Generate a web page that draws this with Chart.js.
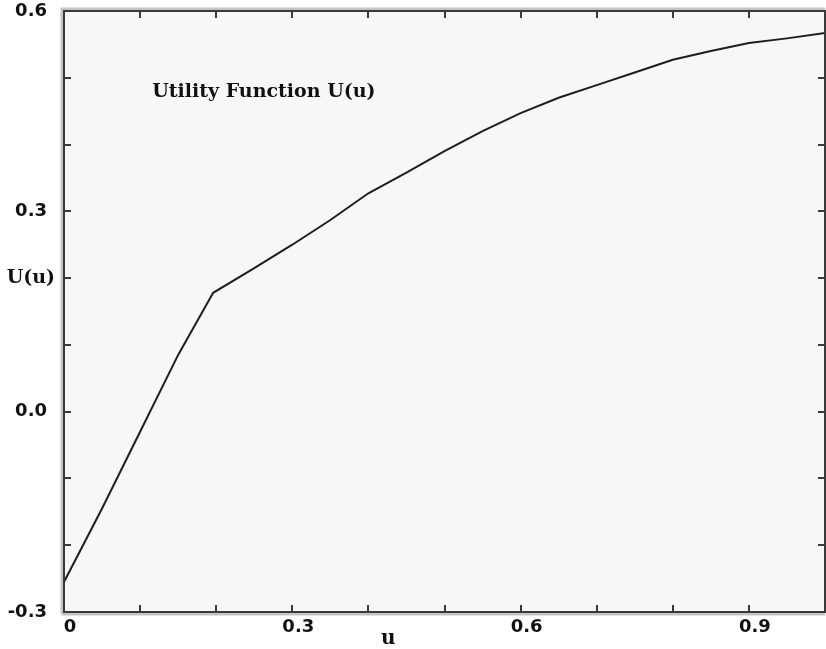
<!DOCTYPE html>
<html>
<head>
<meta charset="utf-8">
<script src="https://cdn.jsdelivr.net/npm/chart.js@4"></script>
<style>
  html, body { margin: 0; padding: 0; background: #fff; }
  #wrap { width: 826px; height: 649px; }
</style>
</head>
<body>
<div id="wrap"><canvas id="graphique"></canvas></div>
<script>
// valeurs
const uValues = [0, 0.05, 0.10, 0.15, 0.196, 0.25, 0.30, 0.35, 0.40, 0.45, 0.50,
                 0.55, 0.60, 0.65, 0.70, 0.75, 0.80, 0.85, 0.90, 0.95, 1.00];
const utilityValues = [-0.255, -0.145, -0.03, 0.085, 0.178, 0.215, 0.250, 0.287, 0.327, 0.358, 0.390,
                       0.420, 0.447, 0.470, 0.489, 0.508, 0.527, 0.540, 0.552, 0.559, 0.567];
const xTickLabels = ['0', '0.3', '0.6', '0.9'];
const yTickLabels = ['-0.3', '0.0', '0.3', '0.6'];
const titleText = 'Utility Function U(u)';
const yTitle = 'U(u)';
const xTitle = 'u';

const fmt = v => (Math.round(v * 10) / 10).toFixed(1);

// cadre, petites graduations vers l'intérieur et textes
const decorPlugin = {
  id: 'decor',
  beforeDatasetsDraw(chart) {
    const { ctx, chartArea: a } = chart;
    ctx.save();
    ctx.fillStyle = '#f7f7f7';
    ctx.fillRect(a.left, a.top, a.right - a.left, a.bottom - a.top);
    ctx.restore();
  },
  afterDraw(chart) {
    const { ctx, chartArea: a, scales } = chart;
    ctx.save();
    // ombre grise du cadre
    ctx.strokeStyle = '#c4c4c4';
    ctx.lineWidth = 3;
    ctx.beginPath();
    ctx.moveTo(a.left - 2, a.bottom + 2);
    ctx.lineTo(a.left - 2, a.top - 2);
    ctx.lineTo(a.right, a.top - 2);
    ctx.moveTo(a.left - 2, a.bottom + 2);
    ctx.lineTo(a.right, a.bottom + 2);
    ctx.stroke();
    // cadre foncé
    ctx.strokeStyle = '#3a3a3a';
    ctx.lineWidth = 2;
    ctx.strokeRect(a.left, a.top, a.right - a.left, a.bottom - a.top);
    // graduations
    ctx.lineWidth = 2;
    const len = 7;
    scales.x.ticks.forEach(t => {
      const px = Math.round(scales.x.getPixelForValue(t.value));
      ctx.beginPath();
      ctx.moveTo(px, a.bottom); ctx.lineTo(px, a.bottom - len);
      ctx.moveTo(px, a.top); ctx.lineTo(px, a.top + len);
      ctx.stroke();
    });
    scales.y.ticks.forEach(t => {
      const py = Math.round(scales.y.getPixelForValue(t.value));
      ctx.beginPath();
      ctx.moveTo(a.left, py); ctx.lineTo(a.left + len, py);
      ctx.moveTo(a.right, py); ctx.lineTo(a.right - len, py);
      ctx.stroke();
    });
    // textes
    ctx.fillStyle = '#111';
    ctx.font = 'bold 19px "DejaVu Serif"';
    ctx.textBaseline = 'middle';
    ctx.textAlign = 'left';
    ctx.fillText(titleText, scales.x.getPixelForValue(0.116), scales.y.getPixelForValue(0.479));
    ctx.textAlign = 'right';
    ctx.fillText(yTitle, a.left - 9, scales.y.getPixelForValue(0.2));
    ctx.textAlign = 'center';
    ctx.font = 'bold 20px "DejaVu Serif"';
    ctx.fillText(xTitle, scales.x.getPixelForValue(0.426), a.bottom + 27);
    ctx.restore();
  }
};

const ctx = document.getElementById('graphique').getContext('2d');
new Chart(ctx, {
  type: 'line',
  data: {
    datasets: [{
      data: uValues.map((u, i) => ({ x: u, y: utilityValues[i] })),
      borderColor: '#1e1e1e',
      borderWidth: 2,
      pointRadius: 0,
      tension: 0,
      fill: false
    }]
  },
  options: {
    responsive: true,
    maintainAspectRatio: false,
    animation: false,
    layout: { padding: { top: 11, right: 1, left: 0, bottom: 0 } },
    plugins: { legend: { display: false }, tooltip: { enabled: false } },
    scales: {
      x: {
        type: 'linear',
        min: 0, max: 1,
        border: { display: false },
        grid: { display: false, drawTicks: false },
        ticks: {
          stepSize: 0.1,
          autoSkip: false,
          maxRotation: 0,
          padding: 5,
          labelOffset: 6,
          color: '#111',
          font: { family: '"DejaVu Sans"', size: 18, weight: 'bold' },
          callback: v => {
            const s = Math.abs(v) < 1e-9 ? '0' : fmt(v);
            return xTickLabels.includes(s) ? s : '';
          }
        },
        afterFit: s => { s.height = 37; s.paddingLeft = 0; s.paddingRight = 0; }
      },
      y: {
        min: -0.3, max: 0.6,
        border: { display: false },
        grid: { display: false, drawTicks: false },
        ticks: {
          stepSize: 0.1,
          autoSkip: false,
          padding: 17,
          color: '#111',
          font: { family: '"DejaVu Sans"', size: 18, weight: 'bold' },
          callback: v => {
            const s = fmt(v) === '-0.0' ? '0.0' : fmt(v);
            return yTickLabels.includes(s) ? s : '';
          }
        },
        afterFit: s => { s.width = 64; s.paddingTop = 0; s.paddingBottom = 0; }
      }
    }
  },
  plugins: [decorPlugin]
});
</script>
</body>
</html>
